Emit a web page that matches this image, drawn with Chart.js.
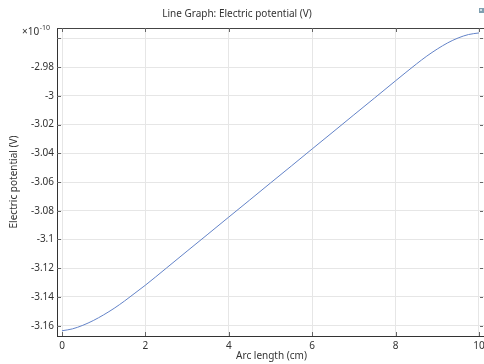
<!DOCTYPE html>
<html>
<head>
<meta charset="utf-8">
<script src="https://cdn.jsdelivr.net/npm/chart.js@4/dist/chart.umd.min.js"></script>
<style>
html,body{margin:0;padding:0;background:#fff;overflow:hidden;}
#wrap{position:relative;width:486px;height:364px;}
</style>
</head>
<body>
<div id="wrap"><canvas id="c"></canvas></div>
<script>
// Data (potential in units of 1e-10 V)
const arcLength = [0,0.25,0.5,0.75,1,1.25,1.5,1.75,2,2.5,3,3.5,4,4.5,5,5.5,6,6.5,7,7.5,8,8.25,8.5,8.75,9,9.25,9.5,9.75,10];
const potential = [-3.1635,-3.1622,-3.1597,-3.1564,-3.1524,-3.1479,-3.1428,-3.1373,-3.1318,-3.1200,-3.1081,-3.0963,-3.0844,-3.0726,-3.0607,-3.0489,-3.0370,-3.0252,-3.0133,-3.0015,-2.9896,-2.9837,-2.9779,-2.9724,-2.9675,-2.9632,-2.9598,-2.9574,-2.9563];
const xTicks = [0,2,4,6,8,10];
const xTickLabels = ['0','2','4','6','8','10'];
const yTicks = [-3.16,-3.14,-3.12,-3.10,-3.08,-3.06,-3.04,-3.02,-3.00,-2.98,-2.96];
const yTickLabels = ['-3.16','-3.14','-3.12','-3.1','-3.08','-3.06','-3.04','-3.02','-3','-2.98',''];
const titleText = 'Line Graph: Electric potential (V)';
const xTitle = 'Arc length (cm)';
const yTitle = 'Electric potential (V)';

const FONT = 'Noto Sans, sans-serif';
const TXT = '#333333';

const frame = {
  id:'frame',
  afterDraw(chart){
    const ctx = chart.ctx, a = chart.chartArea;
    const xs = chart.scales.x, ys = chart.scales.y;
    ctx.save();
    // top border
    ctx.strokeStyle = '#444'; ctx.lineWidth = 1;
    ctx.beginPath();
    ctx.moveTo(a.left, a.top+0.5); ctx.lineTo(a.right, a.top+0.5);
    ctx.stroke();
    // inside tick marks
    ctx.strokeStyle = '#666';
    ctx.beginPath();
    xTicks.forEach(v=>{
      const px = Math.round(xs.getPixelForValue(v))+0.5;
      ctx.moveTo(px, a.bottom); ctx.lineTo(px, a.bottom-4);
      ctx.moveTo(px, a.top); ctx.lineTo(px, a.top+4);
    });
    yTicks.forEach(v=>{
      const py = Math.round(ys.getPixelForValue(v))+0.5;
      ctx.moveTo(a.left, py); ctx.lineTo(a.left+4, py);
      ctx.moveTo(483, py); ctx.lineTo(480, py);
    });
    ctx.stroke();
    // title
    ctx.fillStyle = TXT;
    ctx.font = '10px ' + FONT;
    ctx.textAlign = 'center'; ctx.textBaseline = 'middle';
    ctx.fillText(titleText, 237, 14);
    // exponent label
    ctx.textAlign = 'left';
    ctx.font = '10px ' + FONT;
    ctx.fillText('\u00d710', 22, 32);
    const w = ctx.measureText('\u00d710').width;
    ctx.font = '7px ' + FONT;
    ctx.fillText('-10', 22 + w + 0.5, 28);
    // small icon top-right
    ctx.fillStyle = '#7f9fb0';
    ctx.fillRect(479, 8, 5, 5);
    ctx.fillStyle = '#cfe0e8';
    ctx.fillRect(480, 9, 2, 2);
    ctx.restore();
  }
};

new Chart(document.getElementById('c'), {
  type:'line',
  data:{ datasets:[{
    data: arcLength.map((x,i)=>({x:x, y:potential[i]})),
    borderColor:'#6383c8', borderWidth:1, pointRadius:0,
    cubicInterpolationMode:'monotone', fill:false
  }]},
  options:{
    responsive:true, maintainAspectRatio:false, animation:false,
    devicePixelRatio:1,
    layout:{padding:{top:28,left:0,right:0,bottom:0}},
    plugins:{legend:{display:false}, tooltip:{enabled:false}, title:{display:false}},
    scales:{
      x:{
        type:'linear', min:-0.12, max:10.17,
        afterBuildTicks(s){ s.ticks = xTicks.map(v=>({value:v})); },
        afterFit(s){ s.height = 28; s.paddingLeft = 0; s.paddingRight = 0; },
        grid:{color:'#e6e6e6', drawTicks:false},
        border:{color:'#333', width:1},
        ticks:{padding:4, color:TXT, font:{family:FONT,size:10},
          callback:(v,i)=>xTickLabels[i]},
        title:{display:true, text:xTitle, color:TXT, font:{family:FONT,size:10}, padding:{top:0,bottom:2}}
      },
      y:{
        type:'linear', min:-3.16715, max:-2.95285,
        afterBuildTicks(s){ s.ticks = yTicks.map(v=>({value:v})); },
        afterFit(s){ s.width = 57; s.paddingTop = 0; s.paddingBottom = 0; },
        grid:{color:'#e6e6e6', drawTicks:false},
        border:{color:'#333', width:1},
        ticks:{padding:3, color:TXT, font:{family:FONT,size:10},
          callback:(v,i)=>yTickLabels[i]},
        title:{display:true, text:yTitle, color:TXT, font:{family:FONT,size:10}, padding:{top:8,bottom:0}}
      }
    }
  },
  plugins:[frame]
});
</script>
</body>
</html>
